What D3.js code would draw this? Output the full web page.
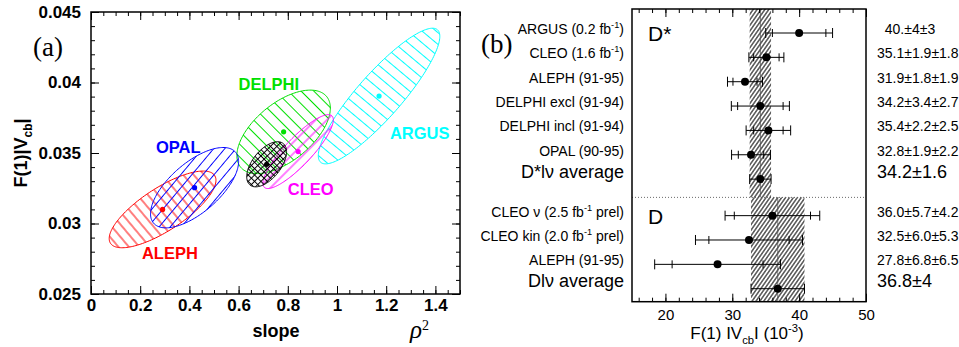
<!DOCTYPE html>
<html>
<head>
<meta charset="utf-8">
<script src="https://cdn.jsdelivr.net/npm/d3@7"></script>
<style>
  body { margin: 0; background: #fff; }
  svg { display: block; font-family: "Liberation Sans", Arial, Helvetica, sans-serif; }
  text { white-space: pre; }
</style>
</head>
<body>
<svg id="chart" width="959" height="347"></svg>
<script>
// ---- panel (a): 1-sigma contours in (slope, F(1)|Vcb|) ----
const experiments = ["ALEPH", "OPAL", "DELPHI", "CLEO", "ARGUS", "Average"];
const slopeVal   = [0.291, 0.421, 0.783, 0.842, 1.171, 0.714];
const fvcbVal    = [0.0310, 0.03254, 0.0365, 0.0351, 0.03904, 0.0342];
const slopeErr   = [0.217, 0.179, 0.190, 0.143, 0.247, 0.081];
const fvcbErr    = [0.00272, 0.00285, 0.00296, 0.00262, 0.00481, 0.0016];
const correlation = [0.76, 0.65, 0.57, 0.86, 0.88, 0.55];
const slopeTicks = [0, 0.2, 0.4, 0.6, 0.8, 1, 1.2, 1.4];
const fvcbTicks  = [0.025, 0.03, 0.035, 0.04, 0.045];

// ---- panel (b): F(1)|Vcb| measurements (10^-3) ----
const dstarLabels = ["ARGUS (0.2 fb^{-1})", "CLEO (1.6 fb^{-1})", "ALEPH (91-95)",
  "DELPHI excl (91-94)", "DELPHI incl (91-94)", "OPAL (90-95)"];
const dstarVal  = [40.0, 35.1, 31.9, 34.2, 35.4, 32.8];
const dstarStat = [4.0, 1.9, 1.8, 3.4, 2.2, 1.9];
const dstarSyst = [3.0, 1.8, 1.9, 2.7, 2.5, 2.2];
const dstarText = ["\u200740.\u00b14\u00b13", "35.1\u00b11.9\u00b11.8", "31.9\u00b11.8\u00b11.9",
  "34.2\u00b13.4\u00b12.7", "35.4\u00b12.2\u00b12.5", "32.8\u00b11.9\u00b12.2"];
const dstarAvg = [34.2, 1.6];

const dLabels = ["CLEO \u03bd (2.5 fb^{-1} prel)", "CLEO kin (2.0 fb^{-1} prel)", "ALEPH (91-95)"];
const dVal  = [36.0, 32.5, 27.8];
const dStat = [5.7, 6.0, 6.8];
const dSyst = [4.2, 5.3, 6.5];
const dText = ["36.0\u00b15.7\u00b14.2", "32.5\u00b16.0\u00b15.3", "27.8\u00b16.8\u00b16.5"];
const dAvg = [36.8, 4.0];
const vcbTicks = [20, 30, 40, 50];

const colors = { ALEPH: "#ff0000", OPAL: "#0000ff", DELPHI: "#00e000", CLEO: "#ff00ff", ARGUS: "#00ffff", Average: "#000000" };
// hatch styles: angle of lines from vertical, gap
const hatch = {
  ALEPH: [[-40], 8], OPAL: [[40], 8.5], DELPHI: [[-45], 9], CLEO: [[45], 8],
  ARGUS: [[-50], 9], Average: [[45, -45], 4.5]
};
// label anchors (data units of panel a)
const labelAt = {
  ALEPH: [0.207, 0.02748], OPAL: [0.264, 0.0350], DELPHI: [0.60, 0.0395],
  CLEO: [0.80, 0.0320], ARGUS: [1.215, 0.0360]
};

const svg = d3.select("#chart");
const defs = svg.append("defs");

function addHatch(id, color, angles, gap, width) {
  angles.forEach((a, k) => {
    const p = defs.append("pattern")
      .attr("id", id + (k ? "_" + k : ""))
      .attr("patternUnits", "userSpaceOnUse")
      .attr("width", gap).attr("height", gap)
      .attr("patternTransform", `rotate(${a})`);
    p.append("line")
      .attr("x1", gap / 2).attr("x2", gap / 2).attr("y1", 0).attr("y2", gap)
      .attr("stroke", color).attr("stroke-width", width);
  });
}

// rich text: ^{sup} and _{sub}
function rich(t, str, base) {
  const parts = str.split(/(\^\{[^}]*\}|_\{[^}]*\})/).filter(s => s.length);
  let shift = 0;
  parts.forEach(p => {
    let target = 0, size = base, txt = p;
    if (p.startsWith("^{")) { txt = p.slice(2, -1); target = -0.42 * base; size = base * 0.66; }
    else if (p.startsWith("_{")) { txt = p.slice(2, -1); target = 0.3 * base; size = base * 0.66; }
    t.append("tspan").attr("dy", target - shift).attr("font-size", size).text(txt);
    shift = target;
  });
}

// ================= panel (a) =================
const xA = d3.scaleLinear().domain([0, 1.5]).range([91, 460]);
const yA = d3.scaleLinear().domain([0.025, 0.045]).range([294, 12]);

experiments.forEach(e => addHatch("h" + e, colors[e], hatch[e][0], hatch[e][1], 1));

const ellipseLine = d3.line().x(d => xA(d[0])).y(d => yA(d[1])).curve(d3.curveLinearClosed);
const gA = svg.append("g");
const order = [4, 2, 3, 0, 1, 5];
order.forEach(i => {
  const e = experiments[i];
  const r = correlation[i];
  const pts = d3.range(0, 2 * Math.PI, Math.PI / 90).map(t => [
    slopeVal[i] + slopeErr[i] * Math.cos(t),
    fvcbVal[i] + fvcbErr[i] * (r * Math.cos(t) + Math.sqrt(1 - r * r) * Math.sin(t))
  ]);
  hatch[e][0].forEach((a, k) => {
    gA.append("path").attr("d", ellipseLine(pts))
      .attr("fill", `url(#h${e}${k ? "_" + k : ""})`).attr("stroke", "none");
  });
  gA.append("path").attr("d", ellipseLine(pts))
    .attr("fill", "none").attr("stroke", colors[e]).attr("stroke-width", 1);
});
experiments.forEach((e, i) => {
  gA.append("circle").attr("cx", xA(slopeVal[i])).attr("cy", yA(fvcbVal[i]))
    .attr("r", 2.6).attr("fill", colors[e]);
});
Object.keys(labelAt).forEach(e => {
  gA.append("text").attr("x", xA(labelAt[e][0])).attr("y", yA(labelAt[e][1]))
    .attr("fill", colors[e]).attr("font-weight", "bold").attr("font-size", 16.5).text(e);
});

// axes (ticks inward on all four sides)
function styleAxis(g) { g.select(".domain").remove(); g.selectAll("line").attr("stroke", "#000"); }
const fmtA = d => String(+d.toFixed(1));
const minorX = d3.range(0, 1.5001, 0.05);
const minorY = d3.range(0.025, 0.04501, 0.001);
svg.append("g").attr("transform", "translate(0,294)")
  .call(d3.axisBottom(xA).tickValues(slopeTicks).tickSize(-8).tickPadding(5).tickFormat(fmtA))
  .call(styleAxis).call(g => g.selectAll("text").attr("font-size", 17).attr("font-weight", "bold").attr("font-family", "Liberation Sans, Arial"));
svg.append("g").attr("transform", "translate(0,294)")
  .call(d3.axisBottom(xA).tickValues(minorX).tickSize(-4).tickFormat("")).call(styleAxis);
svg.append("g").attr("transform", "translate(0,12)")
  .call(d3.axisTop(xA).tickValues(slopeTicks).tickSize(-8).tickFormat("")).call(styleAxis);
svg.append("g").attr("transform", "translate(0,12)")
  .call(d3.axisTop(xA).tickValues(minorX).tickSize(-4).tickFormat("")).call(styleAxis);
svg.append("g").attr("transform", "translate(91,0)")
  .call(d3.axisLeft(yA).tickValues(fvcbTicks).tickSize(-8).tickPadding(10).tickFormat(d3.format(".3~f")))
  .call(styleAxis).call(g => g.selectAll("text").attr("font-size", 17).attr("font-weight", "bold").attr("font-family", "Liberation Sans, Arial"));
svg.append("g").attr("transform", "translate(91,0)")
  .call(d3.axisLeft(yA).tickValues(minorY).tickSize(-4).tickFormat("")).call(styleAxis);
svg.append("g").attr("transform", "translate(460,0)")
  .call(d3.axisRight(yA).tickValues(fvcbTicks).tickSize(-8).tickFormat("")).call(styleAxis);
svg.append("g").attr("transform", "translate(460,0)")
  .call(d3.axisRight(yA).tickValues(minorY).tickSize(-4).tickFormat("")).call(styleAxis);
svg.append("rect").attr("x", 91).attr("y", 12).attr("width", 369).attr("height", 282)
  .attr("fill", "none").attr("stroke", "#000").attr("stroke-width", 1.5);

svg.append("text").attr("x", 276).attr("y", 337).attr("text-anchor", "middle")
  .attr("font-weight", "bold").attr("font-size", 18).text("slope");
const rho = svg.append("text").attr("x", 410).attr("y", 338)
  .attr("font-family", "Liberation Serif, DejaVu Serif, serif");
rho.append("tspan").attr("font-style", "italic").attr("font-size", 25).text("\u03c1");
rho.append("tspan").attr("font-size", 14).attr("dy", -8).text("2");
const yt = svg.append("text").attr("transform", "translate(27,153) rotate(-90)")
  .attr("text-anchor", "middle").attr("font-weight", "bold");
rich(yt, "F(1)|V_{cb}|", 18);
svg.append("text").attr("x", 33).attr("y", 56).attr("font-family", "Liberation Serif, DejaVu Serif, serif")
  .attr("font-size", 27).text("(a)");

// ================= panel (b) =================
const xB = d3.scaleLinear().domain([15, 50]).range([632, 866]);
const yB = d3.scaleLinear().domain([0, 10.5]).range([33, 288.7]);
const topB = 9, botB = 301.7;
const sepY = yB(6.75);

addHatch("band", "#000", [35], 3.2, 1);

const gB = svg.append("g");
// averages as hatched bands
[[dstarAvg, topB, sepY], [dAvg, sepY, botB]].forEach(([a, y0, y1]) => {
  gB.append("rect").attr("x", xB(a[0] - a[1])).attr("y", y0)
    .attr("width", xB(a[0] + a[1]) - xB(a[0] - a[1])).attr("height", y1 - y0)
    .attr("fill", "url(#band)");
  gB.append("line").attr("x1", xB(a[0])).attr("x2", xB(a[0])).attr("y1", y0).attr("y2", y1)
    .attr("stroke", "#555").attr("stroke-width", 0.8);
});
gB.append("line").attr("x1", xB(15)).attr("x2", xB(50)).attr("y1", sepY).attr("y2", sepY)
  .attr("stroke", "#444").attr("stroke-width", 0.8).attr("stroke-dasharray", "1,2");

function errorRow(v, stat, syst, yPos) {
  const tot = Math.sqrt(stat * stat + syst * syst);
  gB.append("line").attr("x1", xB(v - tot)).attr("x2", xB(v + tot)).attr("y1", yPos).attr("y2", yPos)
    .attr("stroke", "#000").attr("stroke-width", 1);
  [v - tot, v + tot].forEach(x => gB.append("line").attr("x1", xB(x)).attr("x2", xB(x))
    .attr("y1", yPos - 5).attr("y2", yPos + 5).attr("stroke", "#000").attr("stroke-width", 1));
  if (stat > 0) [v - stat, v + stat].forEach(x => gB.append("line").attr("x1", xB(x)).attr("x2", xB(x))
    .attr("y1", yPos - 4).attr("y2", yPos + 4).attr("stroke", "#000").attr("stroke-width", 1));
  gB.append("circle").attr("cx", xB(v)).attr("cy", yPos).attr("r", 4).attr("fill", "#000");
}

function rowLabel(str, txt, yPos, size, dy) {
  const t = svg.append("text").attr("x", 624).attr("y", yPos + dy).attr("text-anchor", "end");
  rich(t, str, size);
  svg.append("text").attr("x", 877).attr("y", yPos + dy).attr("font-size", size).text(txt);
}

dstarVal.forEach((v, i) => {
  errorRow(v, dstarStat[i], dstarSyst[i], yB(i));
  rowLabel(dstarLabels[i], dstarText[i], yB(i), 14, 1);
});
errorRow(dstarAvg[0], 0, dstarAvg[1], yB(6));
rowLabel("D*l\u03bd average", "34.2\u00b11.6", yB(6), 18, -1);

dVal.forEach((v, i) => {
  errorRow(v, dStat[i], dSyst[i], yB(7.5 + i));
  rowLabel(dLabels[i], dText[i], yB(7.5 + i), 14, 1);
});
errorRow(dAvg[0], 0, dAvg[1], yB(10.5));
rowLabel("Dl\u03bd average", "36.8\u00b14", yB(10.5), 18, -2);

svg.append("text").attr("x", xB(17.4)).attr("y", 41).attr("font-size", 21).text("D*");
svg.append("text").attr("x", xB(17.4)).attr("y", 224).attr("font-size", 21).text("D");

const minorB = d3.range(16, 50.01, 2);
svg.append("g").attr("transform", `translate(0,${botB})`)
  .call(d3.axisBottom(xB).tickValues(vcbTicks).tickSize(-8).tickPadding(8))
  .call(styleAxis).call(g => g.selectAll("text").attr("font-size", 15).attr("font-family", "Liberation Sans, Arial"));
svg.append("g").attr("transform", `translate(0,${botB})`)
  .call(d3.axisBottom(xB).tickValues(minorB).tickSize(-4).tickFormat("")).call(styleAxis);
svg.append("g").attr("transform", `translate(0,${topB})`)
  .call(d3.axisTop(xB).tickValues(vcbTicks).tickSize(-8).tickFormat("")).call(styleAxis);
svg.append("g").attr("transform", `translate(0,${topB})`)
  .call(d3.axisTop(xB).tickValues(minorB).tickSize(-4).tickFormat("")).call(styleAxis);
svg.append("rect").attr("x", 632).attr("y", topB).attr("width", 234).attr("height", botB - topB)
  .attr("fill", "none").attr("stroke", "#000").attr("stroke-width", 1.5);

const xt = svg.append("text").attr("x", 747).attr("y", 339).attr("text-anchor", "middle");
rich(xt, "F(1) IV_{cb}I (10^{-3})", 17);
svg.append("text").attr("x", 481).attr("y", 53).attr("font-family", "Liberation Serif, DejaVu Serif, serif")
  .attr("font-size", 27).text("(b)");
</script>
</body>
</html>
